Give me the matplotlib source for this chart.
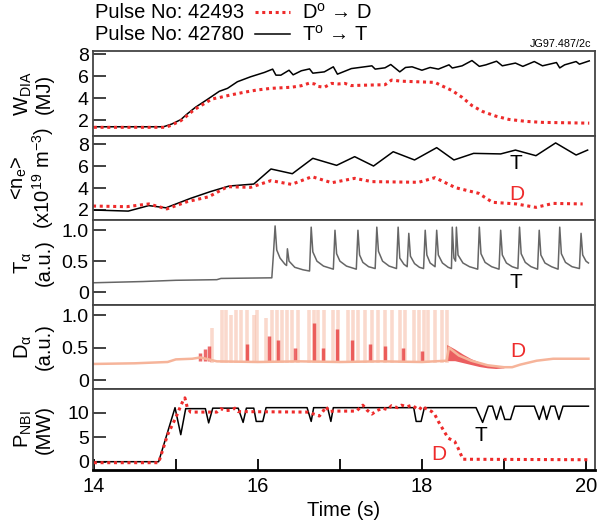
import matplotlib
matplotlib.use('Agg')
import matplotlib.pyplot as plt
from matplotlib.lines import Line2D

plt.rcParams['font.family'] = ['Liberation Sans', 'DejaVu Sans']
plt.rcParams['mathtext.fontset'] = 'custom'
plt.rcParams['mathtext.rm'] = 'Liberation Sans'
plt.rcParams['mathtext.it'] = 'Liberation Sans:italic'
plt.rcParams['mathtext.sf'] = 'Liberation Sans'

RED = '#ee2b2b'
DOT = (0, (1, 1.2))

# --- W_DIA (MJ)
w_t_T = [14.0, 14.85, 14.95, 15.06, 15.14, 15.24, 15.38, 15.53, 15.63, 15.75, 15.91, 16.08, 16.18, 16.22,
         16.28, 16.38, 16.43, 16.53, 16.63, 16.67, 16.81, 16.92, 16.97, 17.14, 17.39, 17.43, 17.55, 17.62,
         17.73, 17.8, 17.88, 18.0, 18.1, 18.2, 18.33, 18.37, 18.49, 18.61, 18.7, 18.78, 18.91, 18.98, 19.14,
         19.23, 19.37, 19.47, 19.64, 19.68, 19.74, 19.88, 19.92, 20.04]
w_T = [1.4, 1.4, 1.65, 2.05, 2.58, 3.18, 3.87, 4.63, 4.9, 5.5, 5.95, 6.35, 6.65, 6.1, 6.1, 6.55, 6.13, 6.5,
       6.67, 6.28, 6.4, 6.86, 6.19, 6.7, 6.95, 6.65, 6.77, 7.07, 6.4, 6.8, 6.86, 6.55, 6.8, 6.65, 7.04, 6.75,
       6.95, 7.43, 6.9, 7.04, 7.37, 6.95, 7.2, 6.9, 7.34, 6.95, 7.25, 6.76, 7.04, 7.34, 7.1, 7.4]
w_t_D = [14.0, 14.87, 14.93, 15.06, 15.14, 15.22, 15.34, 15.44, 15.54, 15.67, 15.83, 15.99, 16.16, 16.41,
         16.53, 16.63, 16.69, 16.73, 16.81, 16.9, 16.98, 17.06, 17.14, 17.26, 17.55, 17.63, 17.75, 18.16,
         18.24, 18.37, 18.49, 18.61, 18.74, 18.9, 19.06, 19.27, 19.47, 20.04]
w_D = [1.35, 1.35, 1.5, 1.95, 2.43, 2.94, 3.48, 3.93, 4.08, 4.3, 4.54, 4.75, 4.9, 5.0, 5.14, 5.38, 5.3, 5.08,
       5.0, 5.35, 5.3, 5.35, 5.15, 5.18, 5.23, 5.65, 5.55, 5.44, 5.14, 4.69, 4.08, 3.33, 2.79, 2.37, 2.07,
       1.89, 1.8, 1.73]

# --- <n_e>
n_t_T = [13.99, 14.42, 14.67, 14.88, 15.18, 15.42, 15.65, 15.95, 16.16, 16.42, 16.67, 16.96, 17.18, 17.41,
         17.65, 17.91, 18.18, 18.39, 18.63, 18.96, 19.14, 19.39, 19.63, 19.88, 20.02]
n_T = [2.0, 1.9, 2.4, 2.2, 3.06, 3.67, 4.18, 4.36, 5.73, 5.3, 6.7, 6.06, 6.85, 6.0, 7.3, 6.55, 7.67, 6.55,
       7.15, 7.1, 7.45, 6.94, 8.1, 7.0, 7.45]
n_t_D = [13.99, 14.4, 14.67, 14.89, 15.14, 15.4, 15.63, 15.91, 16.16, 16.41, 16.66, 16.9, 17.18, 17.39,
         17.96, 18.16, 18.41, 18.69, 18.86, 19.15, 19.39, 19.6, 19.96]
n_D = [2.36, 2.3, 2.55, 2.1, 2.76, 3.2, 4.12, 4.06, 4.67, 4.33, 5.03, 4.48, 4.88, 4.58, 4.52, 4.94, 4.03,
       3.52, 2.7, 2.55, 2.24, 2.6, 2.55]

# --- T_alpha (ELM trace)
ta_t = [14.0, 14.6, 15.0, 15.5, 15.55, 16.17,
        16.19, 16.21, 16.23, 16.27, 16.33,
        16.35, 16.36, 16.38, 16.45, 16.55, 16.63,
        16.65, 16.67, 16.72, 16.8, 16.92,
        16.94, 16.96, 17.0, 17.08, 17.2,
        17.22, 17.24, 17.28, 17.35, 17.43,
        17.45, 17.47, 17.52, 17.6, 17.69,
        17.71, 17.73, 17.78, 17.82,
        17.84, 17.86, 17.91, 17.97, 18.02,
        18.04, 18.06, 18.1, 18.16,
        18.18, 18.2, 18.25, 18.32, 18.36,
        18.37, 18.39, 18.41,
        18.42, 18.44, 18.5, 18.58, 18.68,
        18.7, 18.72, 18.77, 18.85, 18.94,
        18.96, 18.98, 19.03, 19.1, 19.17,
        19.19, 19.21, 19.26, 19.33, 19.41,
        19.43, 19.45, 19.5, 19.58, 19.66,
        19.68, 19.7, 19.75, 19.83, 19.92,
        19.94, 19.96, 20.0, 20.03]
ta_v = [0.15, 0.17, 0.19, 0.2, 0.22, 0.23,
        0.62, 1.07, 0.68, 0.55, 0.45,
        0.43, 0.7, 0.5, 0.4, 0.36, 0.34,
        1.05, 0.65, 0.5, 0.42, 0.37,
        1.0, 0.62, 0.5, 0.42, 0.37,
        1.0, 0.6, 0.48, 0.41, 0.38,
        1.05, 0.66, 0.5, 0.42, 0.38,
        1.05, 0.55, 0.45, 0.41,
        0.95, 0.58, 0.46, 0.4, 0.38,
        1.0, 0.6, 0.47, 0.41,
        1.0, 0.6, 0.47, 0.4, 0.38,
        1.05, 0.55, 0.5,
        1.05, 0.6, 0.47, 0.41, 0.37,
        1.05, 0.62, 0.48, 0.41, 0.37,
        1.0, 0.6, 0.47, 0.41, 0.38,
        1.05, 0.62, 0.48, 0.41, 0.37,
        1.0, 0.6, 0.47, 0.41, 0.37,
        1.05, 0.62, 0.48, 0.41, 0.38,
        0.95, 0.6, 0.5, 0.47]

# --- D_alpha
da_t = [14.0, 14.5, 14.9, 15.0, 15.2, 15.3, 15.4, 15.5, 16.0, 16.5, 17.0, 17.5, 18.0, 18.3, 18.33, 18.45,
        18.6, 18.8, 19.0, 19.1, 19.2, 19.4, 19.6, 20.03]
da_v = [0.25, 0.26, 0.28, 0.32, 0.33, 0.35, 0.32, 0.29, 0.28, 0.29, 0.28, 0.29, 0.28, 0.3, 0.5, 0.38,
        0.3, 0.23, 0.2, 0.2, 0.24, 0.3, 0.33, 0.33]
spike_t = [15.44, 15.56, 15.61, 15.67, 15.73, 15.79, 15.87, 15.95, 15.99, 16.1, 16.17, 16.23, 16.29,
           16.36, 16.42, 16.49, 16.62, 16.69, 16.73, 16.81, 16.92, 16.98, 17.1, 17.16, 17.22, 17.3,
           17.39, 17.47, 17.55, 17.63, 17.73, 17.79, 17.9, 17.96, 18.02, 18.08, 18.16, 18.25, 18.31]
spike_top = [0.8, 1.08, 1.08, 1.0, 1.08, 1.08, 1.08, 1.0, 1.08, 0.95, 1.08, 1.08, 1.08, 1.08, 1.08, 1.08,
             1.08, 1.08, 1.08, 1.08, 1.08, 1.08, 1.08, 1.08, 1.08, 1.08, 1.08, 1.08, 1.08, 1.08, 1.08,
             1.08, 1.08, 1.08, 1.08, 1.08, 1.08, 1.08, 1.08]
burst_t = [15.3, 15.35, 15.4, 15.87, 16.14, 16.25, 16.45, 16.68, 16.79, 16.96, 17.15, 17.37, 17.55,
           17.77, 18.0]
burst_h = [0.42, 0.48, 0.52, 0.55, 0.68, 0.62, 0.5, 0.88, 0.5, 0.78, 0.62, 0.55, 0.52, 0.5, 0.45]
hump_t = [18.3, 18.4, 18.5, 18.6, 18.7, 18.8, 18.9, 19.0]
hump_hi = [0.55, 0.48, 0.4, 0.33, 0.28, 0.24, 0.22, 0.21]
hump_lo = [0.3, 0.3, 0.27, 0.24, 0.21, 0.19, 0.18, 0.19]

# --- P_NBI (MW)
p_t_T = [14.0, 14.79, 14.99, 15.06, 15.12, 15.36, 15.40, 15.45, 15.76, 15.82, 15.86, 15.95, 15.98, 16.06,
         16.10, 16.60, 16.65, 16.68, 16.85, 16.89, 16.92, 17.90, 17.93, 17.99, 18.03, 18.66, 18.74, 18.81,
         18.86, 18.91, 18.96, 19.01, 19.08, 19.13, 19.37, 19.43, 19.48, 19.52, 19.57, 19.62, 19.67, 19.72,
         20.03]
p_T = [0, 0, 11.0, 5.5, 10.8, 10.8, 7.9, 10.9, 10.9, 8.0, 10.9, 10.9, 8.2, 8.2, 11.0, 11.0, 8.2, 11.0, 11.0,
       8.2, 11.0, 11.0, 8.2, 8.2, 11.0, 11.0, 8.0, 11.3, 11.3, 8.6, 11.3, 8.6, 8.6, 11.3, 11.3, 8.6, 11.3,
       8.6, 11.3, 11.3, 8.6, 11.3, 11.3]
p_t_D = [14.0, 14.79, 14.9, 15.0, 15.05, 15.09, 15.11, 15.14, 15.18, 15.5, 15.55, 15.6, 15.68, 15.72, 15.76,
         16.6, 16.7, 16.75, 16.8, 16.83, 16.87, 16.92, 17.2, 17.28, 17.33, 17.39, 17.45, 17.52, 17.58, 17.63,
         17.7, 17.75, 17.82, 17.88, 17.93, 17.97, 18.0, 18.05, 18.12, 18.16, 18.2, 18.27, 18.32, 18.4, 18.44,
         18.5, 20.03]
p_D = [-0.2, -0.2, 5.5, 9.0, 11.0, 12.5, 13.0, 11.0, 10.1, 10.1, 10.8, 10.4, 10.5, 10.9, 10.2, 10.1, 9.6,
       9.3, 10.4, 11.2, 10.2, 10.3, 10.3, 11.5, 10.5, 9.7, 10.4, 10.9, 10.6, 11.4, 11.0, 11.5, 11.2, 11.5,
       10.9, 10.6, 11.3, 10.8, 10.2, 9.5, 8.2, 6.2, 4.8, 4.1, 2.8, 0.5, 0.4]

ylabels = ['W$_\\mathregular{DIA}$\n(MJ)',
           '<n$_\\mathregular{e}$>\n(x10$^\\mathregular{19}$ m$^\\mathregular{-3}$)',
           'T$_\\mathregular{\u03b1}$\n(a.u.)',
           'D$_\\mathregular{\u03b1}$\n(a.u.)',
           'P$_\\mathregular{NBI}$\n(MW)']
ylims = [(0.56, 8.3), (1.09, 8.73), (-0.21, 1.166), (-0.135, 1.156), (-1.69, 14.8)]
yticks = [[2, 4, 6, 8], [2, 4, 6, 8], [0, 0.5, 1.0], [0, 0.5, 1.0], [0, 5, 10]]
yticklabels = [['2', '4', '6', '8'], ['2', '4', '6', '8'], ['0', '0.5', '1.0'], ['0', '0.5', '1.0'],
               ['0', '5', '10']]

W, H = 607, 524
rows = [(51, 136), (136, 220), (220, 305), (305, 389), (389, 470)]
fig = plt.figure(figsize=(6.07, 5.24), dpi=100)
axes = []
for i, (top, bot) in enumerate(rows):
    ax = fig.add_axes([93 / W, 1 - bot / H, (595 - 93) / W, (bot - top) / H])
    ax.set_xlim(13.99, 20.11)
    ax.set_ylim(*ylims[i])
    ax.set_yticks(yticks[i])
    ax.set_yticklabels(yticklabels[i])
    ax.tick_params(axis='y', direction='in', length=9, width=1.3, labelsize=14, pad=3, color='#333')
    for s in ax.spines.values():
        s.set_color('#444')
        s.set_linewidth(1.3)
    ax.text(-0.12, 0.5, ylabels[i], transform=ax.transAxes, rotation=90, ha='center', va='center',
            multialignment='center', fontsize=14.5, linespacing=1.05)
    if i < 4:
        ax.tick_params(axis='x', bottom=False, labelbottom=False)
    axes.append(ax)

ax1, ax2, ax3, ax4, ax5 = axes

ax1.plot(w_t_T, w_T, color='black', lw=1.1)
ax1.plot(w_t_D, w_D, color=RED, lw=2.2, ls=DOT)

ax2.plot(n_t_T, n_T, color='black', lw=1.1)
ax2.plot(n_t_D, n_D, color=RED, lw=2.2, ls=DOT)
ax2.text(19.14, 6.25, 'T', fontsize=15, ha='center', va='center')
ax2.text(19.16, 3.45, 'D', fontsize=15, ha='center', va='center', color=RED)

ax3.plot(ta_t, ta_v, color='#666', lw=1.1)
ax3.text(19.15, 0.15, 'T', fontsize=15, ha='center', va='center')

ax4.vlines(spike_t, 0.27, spike_top, color='#f3a283', lw=2.6, alpha=0.4)
ax4.fill_between(hump_t, hump_lo, hump_hi, color='#e31a1c', alpha=0.7, lw=0)
ax4.vlines(burst_t, 0.3, burst_h, color='#e31a1c', lw=2.5, alpha=0.65)
ax4.plot(da_t, da_v, color='#f6b49a', lw=1.8)
ax4.text(19.17, 0.44, 'D', fontsize=15, ha='center', va='center', color=RED)

ax5.plot(p_t_T, p_T, color='black', lw=1.1)
ax5.plot(p_t_D, p_D, color=RED, lw=2.2, ls=DOT)
ax5.text(18.72, 5.4, 'T', fontsize=15, ha='center', va='center')
ax5.text(18.2, 1.55, 'D', fontsize=15, ha='center', va='center', color=RED)
ax5.set_xticks([14, 16, 18, 20])
ax5.set_xticks([15, 17, 19], minor=True)
ax5.tick_params(axis='x', which='both', direction='in', length=8, width=1.3, labelsize=14.5, pad=5)
ax5.spines['bottom'].set_color('black')
ax5.spines['bottom'].set_linewidth(2)
ax5.set_xlabel('Time (s)', fontsize=14.5, labelpad=4)

# header legend
fig.text(95 / W, 1 - 13 / H, 'Pulse No: 42493', fontsize=14.5, ha='left', va='center')
fig.text(95 / W, 1 - 35 / H, 'Pulse No: 42780', fontsize=14.5, ha='left', va='center')
fig.add_artist(Line2D([255 / W, 290 / W], [1 - 12 / H, 1 - 12 / H], color=RED, lw=2.2, ls=DOT))
fig.add_artist(Line2D([255 / W, 290 / W], [1 - 34 / H, 1 - 34 / H], color='black', lw=1.1))
fig.text(302 / W, 1 - 13 / H, 'D$^\\mathregular{o}$ \u2192 D', fontsize=14.5, ha='left', va='center')
fig.text(302 / W, 1 - 35 / H, 'T$^\\mathregular{o}$ \u2192 T', fontsize=14.5, ha='left', va='center')
fig.text(591 / W, 1 - 44 / H, 'JG97.487/2c', fontsize=7.8, ha='right', va='center')

plt.savefig('out.png', dpi=100)
